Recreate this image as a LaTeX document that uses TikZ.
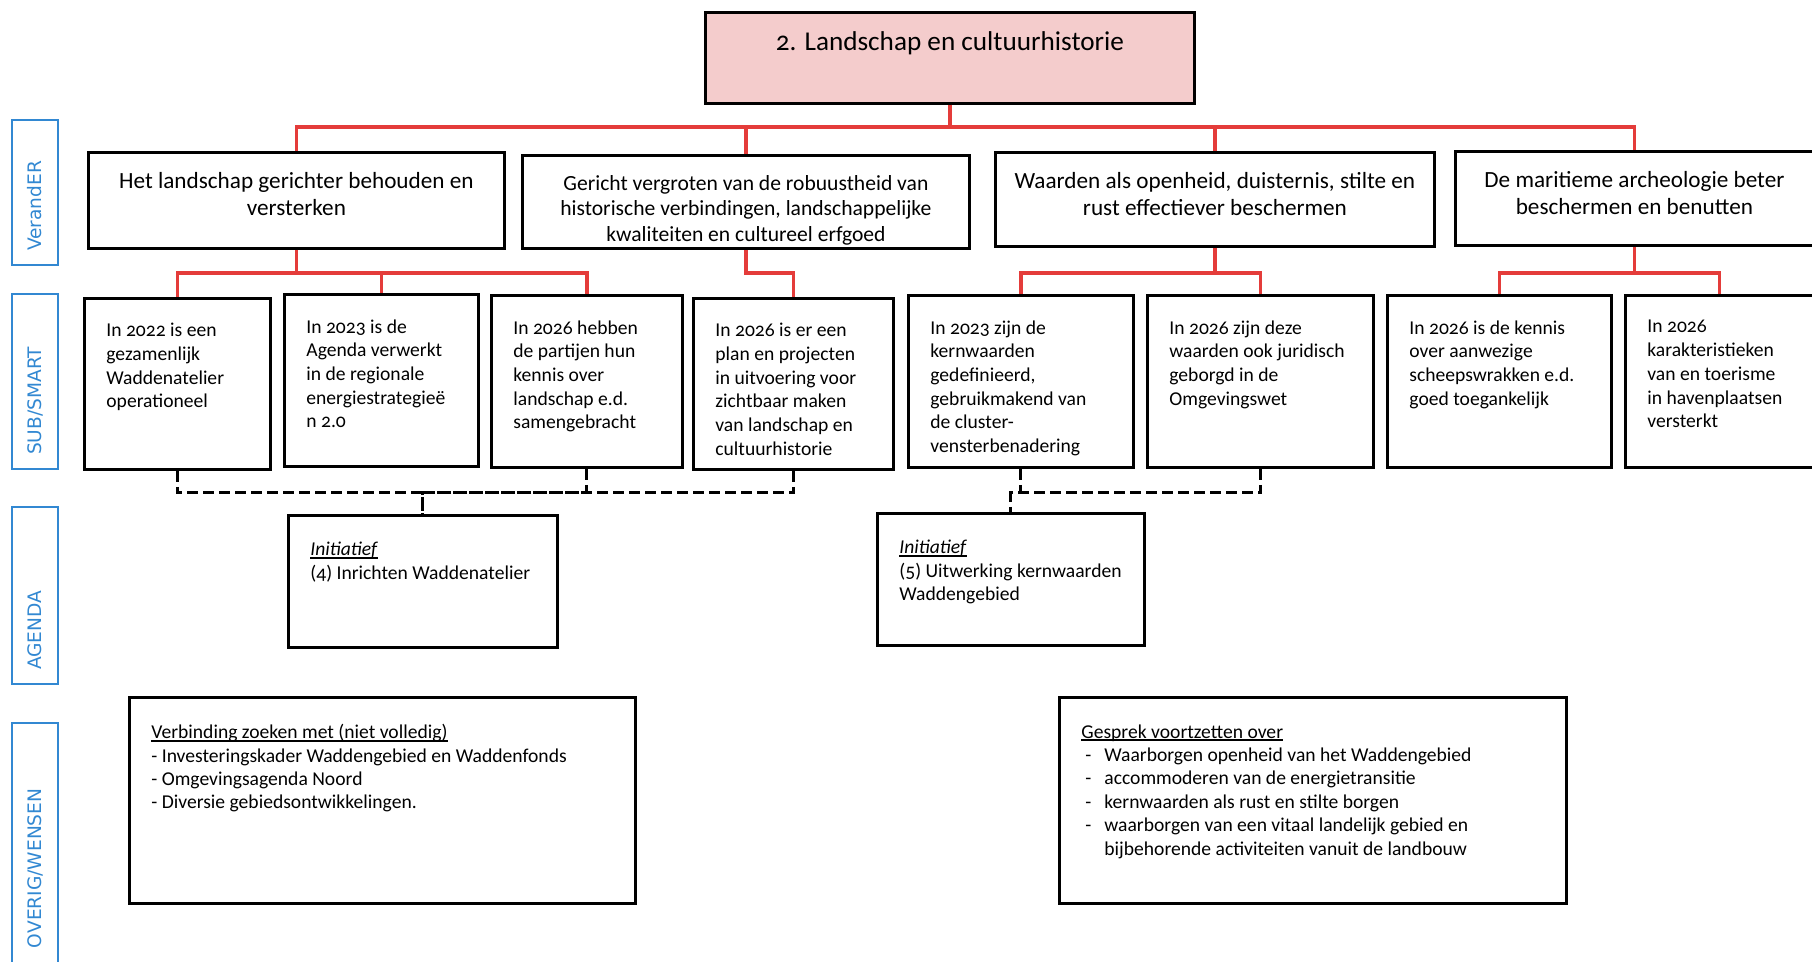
\documentclass[tikz,border=0pt]{standalone}
\usepackage{fontspec}
\setmainfont{Carlito}[Numbers=OldStyle]
\newfontfamily\labelfont{DejaVu Sans}
\usetikzlibrary{calc}

\definecolor{titelroze}{RGB}{244,204,204}
\definecolor{lijnrood}{RGB}{228,60,58}
\definecolor{laagblauw}{RGB}{50,136,210}

\newcommand{\vakinhoud}[3]{\parbox[c][#2][t]{#1}{\raggedright #3}}
\newcommand{\midinhoud}[3]{\parbox[c][#2][t]{#1}{\centering #3}}
\newcommand{\streep}{\makebox[11.5pt][l]{\hspace{2pt}-}}
\newcommand{\onder}[1]{\leavevmode\setbox0=\hbox{#1}\rlap{\rule[-1.4pt]{\wd0}{0.7pt}}\box0}

\tikzset{
    vak/.style={draw, line width=1.4pt, anchor=north west},
    hoofd/.style={vak, fill=titelroze, inner xsep=0pt, inner ysep=9.5pt, font=\fontsize{13.6}{16}\selectfont},
    doel/.style={vak, inner xsep=0pt, inner ysep=10pt, font=\fontsize{11.6}{13.5}\selectfont},
    smart/.style={vak, inner xsep=11pt, inner ysep=12.5pt, font=\fontsize{9.8}{11.85}\selectfont},
    agenda/.style={vak, inner xsep=11pt, inner ysep=13.5pt, font=\fontsize{9.8}{11.7}\selectfont},
    laag/.style={draw=laagblauw, line width=1pt, text=laagblauw, rotate=90, align=left,
        inner xsep=7pt, inner ysep=0pt, minimum height=23pt, font=\labelfont\fontsize{9.3}{11}\selectfont},
    rood/.style={draw=lijnrood, line width=1.6pt},
    stippel/.style={line width=1.5pt, dash pattern=on 5.5pt off 2.5pt}
}

\begin{document}
\begin{tikzpicture}[x=0.5pt, y=-0.5pt]
    \useasboundingbox (0,0) rectangle (1812,962);

    % lagen
    \node[laag, text width=58.5pt] (l1) at (35,192.5) {VerandER};
    \node[laag, text width=73.5pt] (l2) at (35,381.5) {SUB/SMART};
    \node[laag, text width=74.5pt] (l3) at (35,595.5) {AGENDA};
    \node[laag, inner xsep=13.5pt, text width=99pt] (l4) at (35,849) {OVERIG/WENSEN};

    \node[hoofd] (titel) at (704,11) {\midinhoud{244.5pt}{26.5pt}{2. Landschap en cultuurhistorie}};

    \node[doel] (a1) at (87,151) {\midinhoud{208pt}{28pt}{Het landschap gerichter behouden en\\ versterken}};
    \node[doel, font=\fontsize{10.8}{12.75}\selectfont] (a2) at (521,154) {\midinhoud{223.5pt}{26.5pt}{Gericht vergroten van de robuustheid van\\ historische verbindingen, landschappelijke\\ kwaliteiten en cultureel erfgoed}};
    \node[doel] (a3) at (994,151) {\midinhoud{219.5pt}{27pt}{Waarden als openheid, duisternis, stilte en\\ rust effectiever beschermen}};
    \node[doel] (a4) at (1454,150) {\midinhoud{179pt}{27pt}{De maritieme archeologie beter\\ beschermen en benutten}};

    \node[smart] (b1) at (83,297) {\vakinhoud{71pt}{60.5pt}{In 2022 is een\\ gezamenlijk\\ Waddenatelier\\ operationeel}};
    \node[smart] (b2) at (283,293) {\vakinhoud{75pt}{61pt}{In 2023 is de\\ Agenda verwerkt\\ in de regionale\\ energiestrategieë\\ n 2.0}};
    \node[smart] (b3) at (490,294) {\vakinhoud{73.5pt}{61pt}{In 2026 hebben\\ de partijen hun\\ kennis over\\ landschap e.d.\\ samengebracht}};
    \node[smart] (b4) at (692,297) {\vakinhoud{78pt}{60.5pt}{In 2026 is er een\\ plan en projecten\\ in uitvoering voor\\ zichtbaar maken\\ van landschap en\\ cultuurhistorie}};
    \node[smart] (b5) at (907,294) {\vakinhoud{90.5pt}{61pt}{In 2023 zijn de\\ kernwaarden\\ gedefinieerd,\\ gebruikmakend van\\ de cluster-\\ vensterbenadering}};
    \node[smart] (b6) at (1146,294) {\vakinhoud{91pt}{61pt}{In 2026 zijn deze\\ waarden ook juridisch\\ geborgd in de\\ Omgevingswet}};
    \node[smart] (b7) at (1386,294) {\vakinhoud{90pt}{61pt}{In 2026 is de kennis\\ over aanwezige\\ scheepswrakken e.d.\\ goed toegankelijk}};
    \node[smart] (b8) at (1624,294) {\vakinhoud{72pt}{61pt}{In 2026\\ karakteristieken\\ van en toerisme\\ in havenplaatsen\\ versterkt}};

    \node[agenda] (c1) at (287,514) {\vakinhoud{112.5pt}{39pt}{\onder{\textit{Initiatief}}\\ (4) Inrichten Waddenatelier}};
    \node[agenda] (c2) at (876,512) {\vakinhoud{111.5pt}{39pt}{\onder{\textit{Initiatief}}\\ (5) Uitwerking kernwaarden\\ Waddengebied}};

    \node[agenda] (d1) at (128,696) {\vakinhoud{231pt}{76pt}{\onder{Verbinding zoeken met (niet volledig)}\\ - Investeringskader Waddengebied en Waddenfonds\\ - Omgevingsagenda Noord\\ - Diversie gebiedsontwikkelingen.}};
    \node[agenda] (d2) at (1058,696) {\vakinhoud{231.5pt}{76pt}{\onder{Gesprek voortzetten over}\\ \streep Waarborgen openheid van het Waddengebied\\ \streep accommoderen van de energietransitie\\ \streep kernwaarden als rust en stilte borgen\\ \streep waarborgen van een vitaal landelijk gebied en\\ \hspace*{11.5pt}bijbehorende activiteiten vanuit de landbouw}};

    % verbindingen
    \coordinate (bus1) at (0,127);
    \coordinate (bus2) at (0,273);
    \coordinate (bus3) at (0,493);

    \foreach \n in {a1,a2,a3,a4}
        \draw[rood] (titel.south) -- (titel.south |- bus1) -| (\n.north);
    \foreach \a/\b in {a1/b1,a1/b2,a1/b3,a2/b4,a3/b5,a3/b6,a4/b7,a4/b8}
        \draw[rood] (\a.south) -- (\a.south |- bus2) -| (\b.north);

    \foreach \b in {b1,b3,b4}
        \draw[stippel] (\b.south) -- (\b.south |- bus3) -| (c1.north);
    \foreach \b in {b5,b6}
        \draw[stippel] (\b.south) -- (\b.south |- bus3) -| (c2.north);
\end{tikzpicture}
\end{document}
